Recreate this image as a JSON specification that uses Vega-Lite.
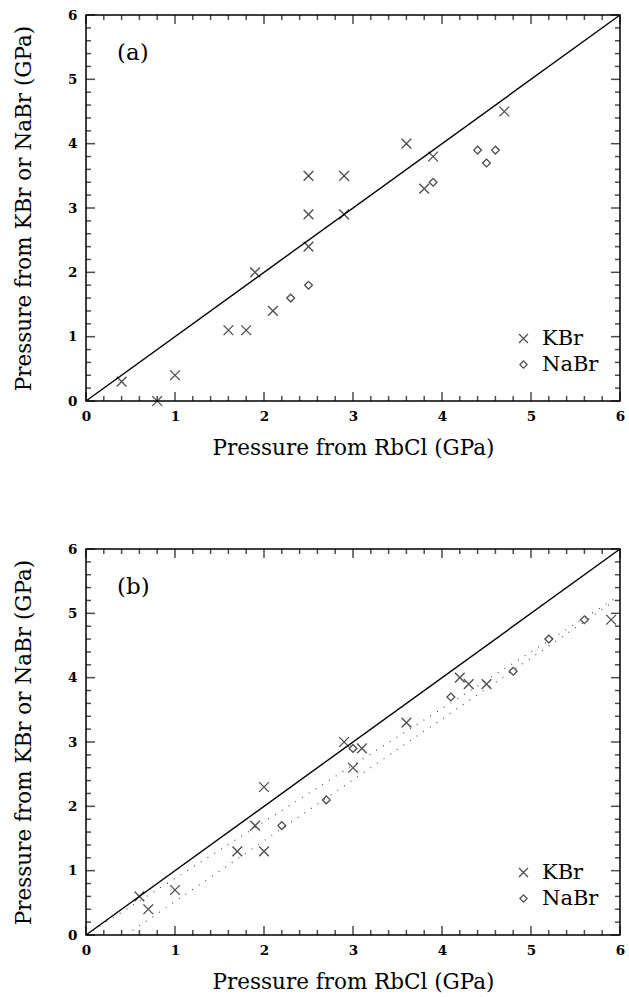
{
  "$schema": "https://vega.github.io/schema/vega-lite/v6.json",
  "padding": {"left": 12, "top": 7, "right": 5, "bottom": 5},
  "background": "white",
  "datasets": {
    "pointsA": [
      {"series": "KBr", "x": 0.4, "y": 0.3},
      {"series": "KBr", "x": 0.8, "y": 0.0},
      {"series": "KBr", "x": 1.0, "y": 0.4},
      {"series": "KBr", "x": 1.6, "y": 1.1},
      {"series": "KBr", "x": 1.8, "y": 1.1},
      {"series": "KBr", "x": 1.9, "y": 2.0},
      {"series": "KBr", "x": 2.1, "y": 1.4},
      {"series": "KBr", "x": 2.5, "y": 2.4},
      {"series": "KBr", "x": 2.5, "y": 2.9},
      {"series": "KBr", "x": 2.5, "y": 3.5},
      {"series": "KBr", "x": 2.9, "y": 2.9},
      {"series": "KBr", "x": 2.9, "y": 3.5},
      {"series": "KBr", "x": 3.6, "y": 4.0},
      {"series": "KBr", "x": 3.8, "y": 3.3},
      {"series": "KBr", "x": 3.9, "y": 3.8},
      {"series": "KBr", "x": 4.7, "y": 4.5},
      {"series": "NaBr", "x": 2.3, "y": 1.6},
      {"series": "NaBr", "x": 2.5, "y": 1.8},
      {"series": "NaBr", "x": 3.9, "y": 3.4},
      {"series": "NaBr", "x": 4.4, "y": 3.9},
      {"series": "NaBr", "x": 4.5, "y": 3.7},
      {"series": "NaBr", "x": 4.6, "y": 3.9}
    ],
    "pointsB": [
      {"series": "KBr", "x": 0.6, "y": 0.6},
      {"series": "KBr", "x": 0.7, "y": 0.4},
      {"series": "KBr", "x": 1.0, "y": 0.7},
      {"series": "KBr", "x": 1.7, "y": 1.3},
      {"series": "KBr", "x": 1.9, "y": 1.7},
      {"series": "KBr", "x": 2.0, "y": 1.3},
      {"series": "KBr", "x": 2.0, "y": 2.3},
      {"series": "KBr", "x": 2.9, "y": 3.0},
      {"series": "KBr", "x": 3.0, "y": 2.6},
      {"series": "KBr", "x": 3.1, "y": 2.9},
      {"series": "KBr", "x": 3.6, "y": 3.3},
      {"series": "KBr", "x": 4.2, "y": 4.0},
      {"series": "KBr", "x": 4.3, "y": 3.9},
      {"series": "KBr", "x": 4.5, "y": 3.9},
      {"series": "KBr", "x": 5.9, "y": 4.9},
      {"series": "NaBr", "x": 2.2, "y": 1.7},
      {"series": "NaBr", "x": 2.7, "y": 2.1},
      {"series": "NaBr", "x": 3.0, "y": 2.9},
      {"series": "NaBr", "x": 4.1, "y": 3.7},
      {"series": "NaBr", "x": 4.8, "y": 4.1},
      {"series": "NaBr", "x": 5.2, "y": 4.6},
      {"series": "NaBr", "x": 5.6, "y": 4.9}
    ],
    "diag": [{"x": 0, "y": 0}, {"x": 6, "y": 6}],
    "fitsB": [
      {"fit": "upper", "x": 0, "y": 0},
      {"fit": "upper", "x": 6, "y": 5.28},
      {"fit": "lower", "x": 0.45, "y": 0},
      {"fit": "lower", "x": 6, "y": 5.25}
    ],
    "ticks": [
      {"v": 0, "kind": "major", "lo": 0, "hi": 6},
      {"v": 0.2, "kind": "minor", "lo": 0, "hi": 6},
      {"v": 0.4, "kind": "minor", "lo": 0, "hi": 6},
      {"v": 0.6, "kind": "minor", "lo": 0, "hi": 6},
      {"v": 0.8, "kind": "minor", "lo": 0, "hi": 6},
      {"v": 1, "kind": "major", "lo": 0, "hi": 6},
      {"v": 1.2, "kind": "minor", "lo": 0, "hi": 6},
      {"v": 1.4, "kind": "minor", "lo": 0, "hi": 6},
      {"v": 1.6, "kind": "minor", "lo": 0, "hi": 6},
      {"v": 1.8, "kind": "minor", "lo": 0, "hi": 6},
      {"v": 2, "kind": "major", "lo": 0, "hi": 6},
      {"v": 2.2, "kind": "minor", "lo": 0, "hi": 6},
      {"v": 2.4, "kind": "minor", "lo": 0, "hi": 6},
      {"v": 2.6, "kind": "minor", "lo": 0, "hi": 6},
      {"v": 2.8, "kind": "minor", "lo": 0, "hi": 6},
      {"v": 3, "kind": "major", "lo": 0, "hi": 6},
      {"v": 3.2, "kind": "minor", "lo": 0, "hi": 6},
      {"v": 3.4, "kind": "minor", "lo": 0, "hi": 6},
      {"v": 3.6, "kind": "minor", "lo": 0, "hi": 6},
      {"v": 3.8, "kind": "minor", "lo": 0, "hi": 6},
      {"v": 4, "kind": "major", "lo": 0, "hi": 6},
      {"v": 4.2, "kind": "minor", "lo": 0, "hi": 6},
      {"v": 4.4, "kind": "minor", "lo": 0, "hi": 6},
      {"v": 4.6, "kind": "minor", "lo": 0, "hi": 6},
      {"v": 4.8, "kind": "minor", "lo": 0, "hi": 6},
      {"v": 5, "kind": "major", "lo": 0, "hi": 6},
      {"v": 5.2, "kind": "minor", "lo": 0, "hi": 6},
      {"v": 5.4, "kind": "minor", "lo": 0, "hi": 6},
      {"v": 5.6, "kind": "minor", "lo": 0, "hi": 6},
      {"v": 5.8, "kind": "minor", "lo": 0, "hi": 6},
      {"v": 6, "kind": "major", "lo": 0, "hi": 6}
    ]
  },
  "vconcat": [
    {
      "width": 534,
      "height": 386,
      "title": {"text": "(a)", "anchor": "start", "frame": "group", "dx": 31, "dy": 61, "font": "DejaVu Serif", "fontSize": 23, "fontWeight": "normal", "color": "black"},
      "layer": [
        {"data": {"name": "ticks"}, "transform": [{"filter": "datum.kind === 'major'"}],
         "mark": {"type": "tick", "orient": "vertical", "color": "black", "size": 9, "thickness": 1.5, "yOffset": -4.5},
         "encoding": {"x": {"field": "v", "type": "quantitative", "scale": {"domain": [0, 6], "nice": false}, "axis": null},
                      "y": {"field": "lo", "type": "quantitative", "scale": {"domain": [0, 6], "nice": false}, "axis": null}}},
        {"data": {"name": "ticks"}, "transform": [{"filter": "datum.kind === 'minor'"}],
         "mark": {"type": "tick", "orient": "vertical", "color": "black", "size": 5, "thickness": 1.5, "yOffset": -2.5},
         "encoding": {"x": {"field": "v", "type": "quantitative", "axis": null},
                      "y": {"field": "lo", "type": "quantitative", "axis": null}}},
        {"data": {"name": "ticks"}, "transform": [{"filter": "datum.kind === 'major'"}],
         "mark": {"type": "tick", "orient": "vertical", "color": "black", "size": 9, "thickness": 1.5, "yOffset": 4.5},
         "encoding": {"x": {"field": "v", "type": "quantitative", "axis": null},
                      "y": {"field": "hi", "type": "quantitative", "axis": null}}},
        {"data": {"name": "ticks"}, "transform": [{"filter": "datum.kind === 'minor'"}],
         "mark": {"type": "tick", "orient": "vertical", "color": "black", "size": 5, "thickness": 1.5, "yOffset": 2.5},
         "encoding": {"x": {"field": "v", "type": "quantitative", "axis": null},
                      "y": {"field": "hi", "type": "quantitative", "axis": null}}},
        {"data": {"name": "ticks"}, "transform": [{"filter": "datum.kind === 'major'"}],
         "mark": {"type": "tick", "orient": "horizontal", "color": "black", "size": 9, "thickness": 1.5, "xOffset": 4.5},
         "encoding": {"x": {"field": "lo", "type": "quantitative", "axis": null},
                      "y": {"field": "v", "type": "quantitative", "axis": null}}},
        {"data": {"name": "ticks"}, "transform": [{"filter": "datum.kind === 'minor'"}],
         "mark": {"type": "tick", "orient": "horizontal", "color": "black", "size": 5, "thickness": 1.5, "xOffset": 2.5},
         "encoding": {"x": {"field": "lo", "type": "quantitative", "axis": null},
                      "y": {"field": "v", "type": "quantitative", "axis": null}}},
        {"data": {"name": "ticks"}, "transform": [{"filter": "datum.kind === 'major'"}],
         "mark": {"type": "tick", "orient": "horizontal", "color": "black", "size": 9, "thickness": 1.5, "xOffset": -4.5},
         "encoding": {"x": {"field": "hi", "type": "quantitative", "axis": null},
                      "y": {"field": "v", "type": "quantitative", "axis": null}}},
        {"data": {"name": "ticks"}, "transform": [{"filter": "datum.kind === 'minor'"}],
         "mark": {"type": "tick", "orient": "horizontal", "color": "black", "size": 5, "thickness": 1.5, "xOffset": -2.5},
         "encoding": {"x": {"field": "hi", "type": "quantitative", "axis": null},
                      "y": {"field": "v", "type": "quantitative", "axis": null}}},
        {
          "data": {"name": "diag"},
          "mark": {"type": "line", "color": "black", "strokeWidth": 1.4},
          "encoding": {
            "x": {"field": "x", "type": "quantitative", "axis": null},
            "y": {"field": "y", "type": "quantitative", "axis": null}
          }
        },
        {
          "data": {"name": "pointsA"},
          "mark": {"type": "point", "filled": false, "color": "black", "strokeWidth": 1.3, "size": 95},
          "encoding": {
            "x": {"field": "x", "type": "quantitative",
              "axis": {"orient": "bottom", "title": "Pressure from RbCl (GPa)", "ticks": false, "tickSize": 0, "labelPadding": 8, "titlePadding": 15, "values": [0,1,2,3,4,5,6]}},
            "y": {"field": "y", "type": "quantitative",
              "axis": {"orient": "left", "title": "Pressure from KBr or NaBr (GPa)", "ticks": false, "tickSize": 0, "labelPadding": 9, "titlePadding": 32, "values": [0,1,2,3,4,5,6]}},
            "shape": {"field": "series", "type": "nominal",
              "scale": {"domain": ["KBr", "NaBr"], "range": ["M-1,-1L1,1M1,-1L-1,1", "M-0.8,0L0,-0.8L0.8,0L0,0.8Z"]},
              "legend": {"orient": "none", "legendX": 427, "legendY": 313, "title": null}}
          }
        }
      ],
      "resolve": {"axis": {"x": "independent", "y": "independent"}}
    },
    {
      "width": 534,
      "height": 386,
      "title": {"text": "(b)", "anchor": "start", "frame": "group", "dx": 31, "dy": 61, "font": "DejaVu Serif", "fontSize": 23, "fontWeight": "normal", "color": "black"},
      "layer": [
        {"data": {"name": "ticks"}, "transform": [{"filter": "datum.kind === 'major'"}],
         "mark": {"type": "tick", "orient": "vertical", "color": "black", "size": 9, "thickness": 1.5, "yOffset": -4.5},
         "encoding": {"x": {"field": "v", "type": "quantitative", "scale": {"domain": [0, 6], "nice": false}, "axis": null},
                      "y": {"field": "lo", "type": "quantitative", "scale": {"domain": [0, 6], "nice": false}, "axis": null}}},
        {"data": {"name": "ticks"}, "transform": [{"filter": "datum.kind === 'minor'"}],
         "mark": {"type": "tick", "orient": "vertical", "color": "black", "size": 5, "thickness": 1.5, "yOffset": -2.5},
         "encoding": {"x": {"field": "v", "type": "quantitative", "axis": null},
                      "y": {"field": "lo", "type": "quantitative", "axis": null}}},
        {"data": {"name": "ticks"}, "transform": [{"filter": "datum.kind === 'major'"}],
         "mark": {"type": "tick", "orient": "vertical", "color": "black", "size": 9, "thickness": 1.5, "yOffset": 4.5},
         "encoding": {"x": {"field": "v", "type": "quantitative", "axis": null},
                      "y": {"field": "hi", "type": "quantitative", "axis": null}}},
        {"data": {"name": "ticks"}, "transform": [{"filter": "datum.kind === 'minor'"}],
         "mark": {"type": "tick", "orient": "vertical", "color": "black", "size": 5, "thickness": 1.5, "yOffset": 2.5},
         "encoding": {"x": {"field": "v", "type": "quantitative", "axis": null},
                      "y": {"field": "hi", "type": "quantitative", "axis": null}}},
        {"data": {"name": "ticks"}, "transform": [{"filter": "datum.kind === 'major'"}],
         "mark": {"type": "tick", "orient": "horizontal", "color": "black", "size": 9, "thickness": 1.5, "xOffset": 4.5},
         "encoding": {"x": {"field": "lo", "type": "quantitative", "axis": null},
                      "y": {"field": "v", "type": "quantitative", "axis": null}}},
        {"data": {"name": "ticks"}, "transform": [{"filter": "datum.kind === 'minor'"}],
         "mark": {"type": "tick", "orient": "horizontal", "color": "black", "size": 5, "thickness": 1.5, "xOffset": 2.5},
         "encoding": {"x": {"field": "lo", "type": "quantitative", "axis": null},
                      "y": {"field": "v", "type": "quantitative", "axis": null}}},
        {"data": {"name": "ticks"}, "transform": [{"filter": "datum.kind === 'major'"}],
         "mark": {"type": "tick", "orient": "horizontal", "color": "black", "size": 9, "thickness": 1.5, "xOffset": -4.5},
         "encoding": {"x": {"field": "hi", "type": "quantitative", "axis": null},
                      "y": {"field": "v", "type": "quantitative", "axis": null}}},
        {"data": {"name": "ticks"}, "transform": [{"filter": "datum.kind === 'minor'"}],
         "mark": {"type": "tick", "orient": "horizontal", "color": "black", "size": 5, "thickness": 1.5, "xOffset": -2.5},
         "encoding": {"x": {"field": "hi", "type": "quantitative", "axis": null},
                      "y": {"field": "v", "type": "quantitative", "axis": null}}},
        {
          "data": {"name": "diag"},
          "mark": {"type": "line", "color": "black", "strokeWidth": 1.4},
          "encoding": {
            "x": {"field": "x", "type": "quantitative", "axis": null},
            "y": {"field": "y", "type": "quantitative", "axis": null}
          }
        },
        {
          "data": {"name": "fitsB"},
          "mark": {"type": "line", "color": "#444", "strokeWidth": 1.1, "strokeDash": [1, 7]},
          "encoding": {
            "x": {"field": "x", "type": "quantitative", "axis": null},
            "y": {"field": "y", "type": "quantitative", "axis": null},
            "detail": {"field": "fit"}
          }
        },
        {
          "data": {"name": "pointsB"},
          "mark": {"type": "point", "filled": false, "color": "black", "strokeWidth": 1.3, "size": 95},
          "encoding": {
            "x": {"field": "x", "type": "quantitative",
              "axis": {"orient": "bottom", "title": "Pressure from RbCl (GPa)", "ticks": false, "tickSize": 0, "labelPadding": 8, "titlePadding": 15, "values": [0,1,2,3,4,5,6]}},
            "y": {"field": "y", "type": "quantitative",
              "axis": {"orient": "left", "title": "Pressure from KBr or NaBr (GPa)", "ticks": false, "tickSize": 0, "labelPadding": 9, "titlePadding": 32, "values": [0,1,2,3,4,5,6]}},
            "shape": {"field": "series", "type": "nominal",
              "scale": {"domain": ["KBr", "NaBr"], "range": ["M-1,-1L1,1M1,-1L-1,1", "M-0.8,0L0,-0.8L0.8,0L0,0.8Z"]},
              "legend": {"orient": "none", "legendX": 427, "legendY": 313, "title": null}}
          }
        }
      ],
      "resolve": {"axis": {"x": "independent", "y": "independent"}}
    }
  ],
  "spacing": 81,
  "resolve": {"legend": {"shape": "independent"}},
  "config": {
    "view": {"stroke": "black", "strokeWidth": 1.5},
    "axis": {
      "domain": false,
      "grid": false,
      "labelFont": "DejaVu Serif",
      "labelFontSize": 13.5,
      "labelFontWeight": "bold",
      "labelColor": "black",
      "labelFlush": false,
      "labelOverlap": false,
      "titleFont": "DejaVu Serif",
      "titleFontSize": 21.5,
      "titleFontWeight": "normal",
      "titleColor": "black"
    },
    "legend": {
      "labelFont": "DejaVu Serif",
      "labelFontSize": 21,
      "labelColor": "black",
      "symbolSize": 80,
      "symbolStrokeColor": "black",
      "symbolStrokeWidth": 1.2,
      "symbolFillColor": "transparent",
      "rowPadding": 4,
      "labelOffset": 8
    }
  }
}
